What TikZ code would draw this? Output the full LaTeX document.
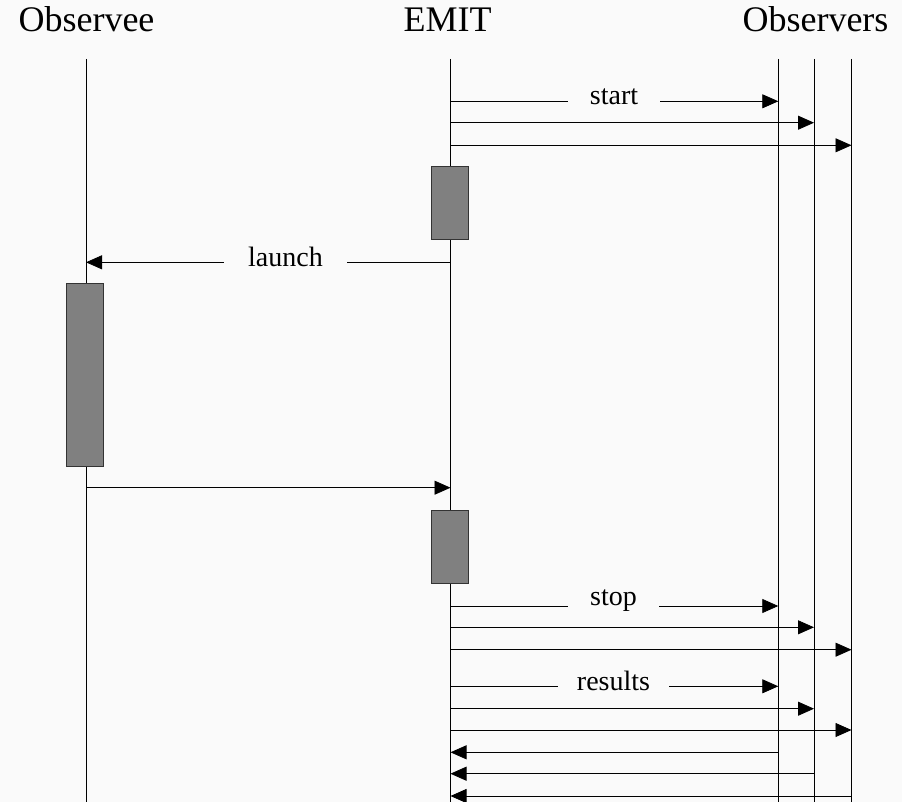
\documentclass[tikz,border=0pt]{standalone}
\usepackage{fontspec}
\setmainfont{Liberation Serif}
\usetikzlibrary{arrows.meta}
\definecolor{bg}{RGB}{250,250,250}
\definecolor{actfill}{RGB}{128,128,128}
\begin{document}
\begin{tikzpicture}[x=1pt,y=-1pt,
  lifeline/.style={draw=black,line width=0.8pt},
  msg/.style={draw=black,line width=0.8pt,-{Triangle[length=16pt,width=14pt]}},
  act/.style={draw=black!80,fill=actfill,line width=0.8pt,minimum width=37pt,inner sep=0pt},
  title/.style={font=\fontsize{36}{40}\selectfont,anchor=base,inner sep=0pt},
  lbl/.style={font=\fontsize{28}{32}\selectfont,fill=bg,inner ysep=2pt,inner xsep=22pt}]
\fill[bg] (0,0) rectangle (902,802);
\useasboundingbox (0,0) rectangle (902,802);
% titles
\node[title] (tObservee) at (86.5,32) {Observee};
\node[title] (tEMIT) at (447.5,32) {EMIT};
\node[title] (tObservers) at (815.5,32) {Observers};
% lifelines
\coordinate (Ltop) at (86,59);   \coordinate (Lbot) at (86,802);
\coordinate (Etop) at (450.5,59);\coordinate (Ebot) at (450.5,802);
\coordinate (Atop) at (778.3,59);\coordinate (Abot) at (778.3,802);
\coordinate (Btop) at (814,59);  \coordinate (Bbot) at (814,802);
\coordinate (Ctop) at (851.5,59);\coordinate (Cbot) at (851.5,802);
\draw[lifeline] (Ltop) -- (Lbot);
\draw[lifeline] (Etop) -- (Ebot);
\draw[lifeline] (Atop) -- (Abot);
\draw[lifeline] (Btop) -- (Bbot);
\draw[lifeline] (Ctop) -- (Cbot);
% activation boxes
\node[act,minimum height=73.4pt] (act1) at (449.8,203) {};
\node[act,minimum height=182.7pt,minimum width=36.6pt] (act2) at (85,374.7) {};
\node[act,minimum height=73pt] (act3) at (449.8,546.8) {};
% start
\coordinate (s1e) at (450.5,101.3); \coordinate (s1o) at (778.3,101.3);
\coordinate (s2e) at (450.5,122.7); \coordinate (s2o) at (814,122.7);
\coordinate (s3e) at (450.5,145.3); \coordinate (s3o) at (851.5,145.3);
\draw[msg] (s1e) -- (s1o);
\node[lbl] (lstart) at (614,97) {start};
\draw[msg] (s2e) -- (s2o);
\draw[msg] (s3e) -- (s3o);
% launch
\coordinate (l1e) at (450.5,262.3); \coordinate (l1o) at (86,262.3);
\draw[msg] (l1e) -- (l1o);
\node[lbl,inner xsep=24pt] (llaunch) at (285.5,257) {launch};
% return from observee
\coordinate (r1o) at (86,487.7); \coordinate (r1e) at (450.5,487.7);
\draw[msg] (r1o) -- (r1e);
% stop
\coordinate (t1e) at (450.5,606); \coordinate (t1o) at (778.3,606);
\coordinate (t2e) at (450.5,627.3); \coordinate (t2o) at (814,627.3);
\coordinate (t3e) at (450.5,649.7); \coordinate (t3o) at (851.5,649.7);
\draw[msg] (t1e) -- (t1o);
\node[lbl] (lstop) at (613.5,601) {\vphantom{t}stop};
\draw[msg] (t2e) -- (t2o);
\draw[msg] (t3e) -- (t3o);
% results
\coordinate (u1e) at (450.5,686.3); \coordinate (u1o) at (778.3,686.3);
\coordinate (u2e) at (450.5,708.7); \coordinate (u2o) at (814,708.7);
\coordinate (u3e) at (450.5,730); \coordinate (u3o) at (851.5,730);
\draw[msg] (u1e) -- (u1o);
\node[lbl,inner xsep=19pt] (lresults) at (613.5,681) {results};
\draw[msg] (u2e) -- (u2o);
\draw[msg] (u3e) -- (u3o);
% returns
\coordinate (v1o) at (778.3,752.3); \coordinate (v1e) at (450.5,752.3);
\coordinate (v2o) at (814,773.7);   \coordinate (v2e) at (450.5,773.7);
\coordinate (v3o) at (851.5,796);   \coordinate (v3e) at (450.5,796);
\draw[msg] (v1o) -- (v1e);
\draw[msg] (v2o) -- (v2e);
\draw[msg] (v3o) -- (v3e);
\end{tikzpicture}
\end{document}
